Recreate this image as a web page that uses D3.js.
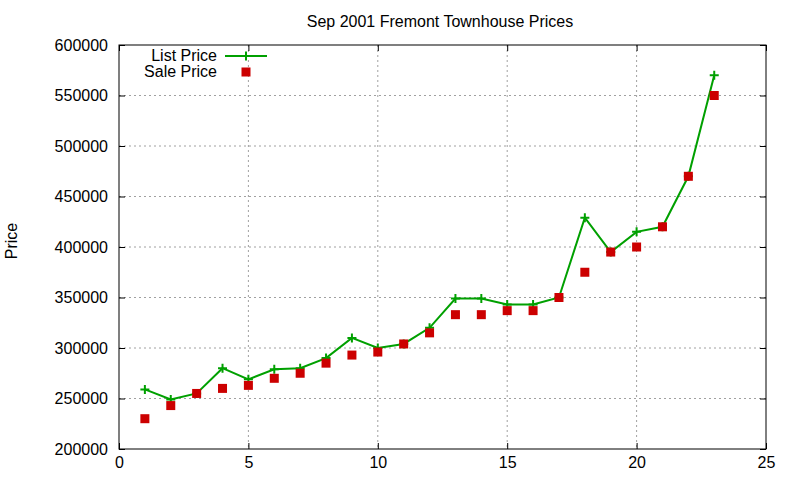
<!DOCTYPE html>
<html><head><meta charset="utf-8">
<script src="https://cdn.jsdelivr.net/npm/d3@7"></script>
<style>body{margin:0;background:#fff}svg{display:block}text{font-family:"Liberation Sans",Arial,sans-serif;fill:#000}</style>
</head><body>
<script>
const months = d3.range(1, 24);
const listPrice = [259000,249000,255000,280000,269000,279000,280000,290000,310000,300000,304000,320000,349000,349000,343000,343000,350000,429000,395000,415000,420000,470000,570000];
const salePrice = [230000,243000,255000,260000,263000,270000,275000,285000,293000,296000,304000,315000,333000,333000,337000,337000,350000,375000,395000,400000,420000,470000,550000];
const xTicks = [0,5,10,15,20,25];
const yTicks = [200000,250000,300000,350000,400000,450000,500000,550000,600000];

const W=800,H=480;
const m={l:119,r:766,t:45,b:449};
const svg=d3.select("body").append("svg").attr("width",W).attr("height",H);
const x=d3.scaleLinear().domain([0,25]).range([m.l,m.r]);
const y=d3.scaleLinear().domain([200000,600000]).range([m.b,m.t]);
const fs=16;

// grid
const g=svg.append("g");
g.selectAll(".gx").data(xTicks.slice(1,-1)).join("line")
 .attr("x1",d=>x(d)).attr("x2",d=>x(d)).attr("y1",m.t).attr("y2",m.b)
 .attr("stroke","#a0a0a0").attr("stroke-dasharray","2,3");
g.selectAll(".gy").data(yTicks.slice(1,-1)).join("line")
 .attr("y1",d=>y(d)).attr("y2",d=>y(d)).attr("x1",m.l).attr("x2",m.r)
 .attr("stroke","#a0a0a0").attr("stroke-dasharray","2,3");

// axes with inward ticks
const axL=d3.axisLeft(y).tickValues(yTicks).tickSize(-6).tickPadding(11).tickFormat(d3.format("d"));
const axR=d3.axisRight(y).tickValues(yTicks).tickSize(-6).tickFormat("");
const axB=d3.axisBottom(x).tickValues(xTicks).tickSize(-6).tickPadding(8).tickFormat(d3.format("d"));
const axT=d3.axisTop(x).tickValues(xTicks).tickSize(-6).tickFormat("");
function style(sel){sel.select(".domain").remove();sel.selectAll("line").attr("stroke","#000");sel.selectAll("text").attr("font-size",fs).attr("font-family","Liberation Sans, Arial, sans-serif").attr("fill","#000");}
svg.append("g").attr("transform",`translate(${m.l},0)`).call(axL).call(style);
svg.append("g").attr("transform",`translate(${m.r},0)`).call(axR).call(style);
svg.append("g").attr("transform",`translate(0,${m.b})`).call(axB).call(style);
svg.append("g").attr("transform",`translate(0,${m.t})`).call(axT).call(style);
svg.append("rect").attr("x",m.l).attr("y",m.t).attr("width",m.r-m.l).attr("height",m.b-m.t).attr("fill","none").attr("stroke","#000");

// title + label
svg.append("text").attr("x",440).attr("y",27).attr("text-anchor","middle").attr("font-size",fs).text("Sep 2001 Fremont Townhouse Prices");
svg.append("text").attr("transform","translate(17,241) rotate(-90)").attr("text-anchor","middle").attr("font-size",fs).text("Price");

const green="#00a000", red="#cc0000";
// list line
svg.append("path").datum(months).attr("fill","none").attr("stroke",green).attr("stroke-width",2)
 .attr("d",d3.line().x(d=>x(d)).y((d,i)=>y(listPrice[i])));
const plus=(sel,cx,cy)=>{sel.append("path").attr("d",`M${cx-4.5},${cy}H${cx+4.5}M${cx},${cy-4.5}V${cy+4.5}`).attr("stroke",green).attr("stroke-width",2);};
const pg=svg.append("g");
months.forEach((d,i)=>plus(pg,x(d),y(listPrice[i])));
svg.append("g").selectAll("rect").data(months).join("rect")
 .attr("x",d=>x(d)-4.5).attr("y",(d,i)=>y(salePrice[i])-4.5).attr("width",9).attr("height",9).attr("fill",red);

// legend
svg.append("text").attr("x",217).attr("y",61).attr("text-anchor","end").attr("font-size",fs).text("List Price");
svg.append("line").attr("x1",225).attr("x2",267).attr("y1",56).attr("y2",56).attr("stroke",green).attr("stroke-width",2);
plus(svg,246,56);
svg.append("text").attr("x",217).attr("y",77).attr("text-anchor","end").attr("font-size",fs).text("Sale Price");
svg.append("rect").attr("x",241.5).attr("y",67.5).attr("width",9).attr("height",9).attr("fill",red);
</script>
</body></html>
